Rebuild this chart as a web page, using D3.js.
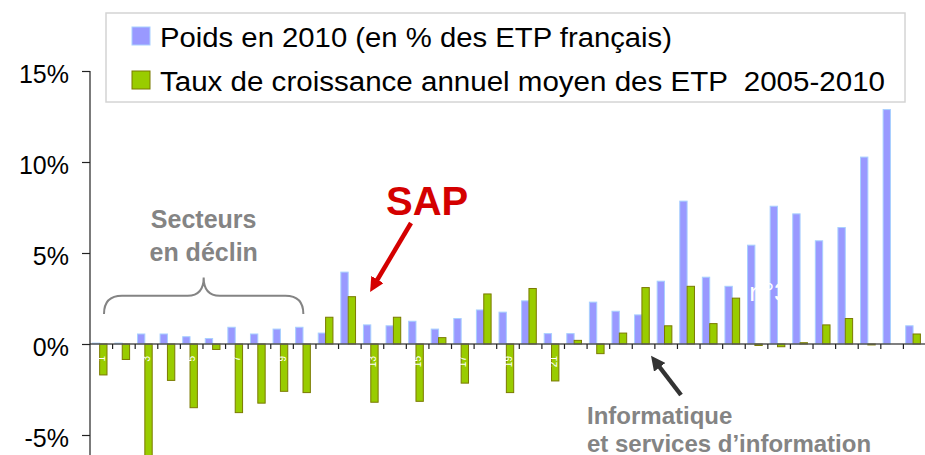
<!DOCTYPE html>
<html>
<head>
<meta charset="utf-8">
<script src="https://cdn.jsdelivr.net/npm/d3@7"></script>
<style>
  body { margin: 0; background: #fff; }
  svg { display: block; font-family: "Liberation Sans", Arial, sans-serif; }
</style>
</head>
<body>
<div id="chart"></div>
<script>
// secteurs numérotés 1..37
const categories = ["1","2","3","4","5","6","7","8","9","10","11","12","13","14","15","16","17","18","19",
  "20","21","22","23","24","25","26","27","28","29","30","31","32","33","34","35","36","37"];
// Poids en 2010 (en % des ETP français)
const poids = [0.05, 0.05, 0.55, 0.55, 0.4, 0.3, 0.92, 0.55, 0.82, 0.92,
  0.6, 3.95, 1.05, 1.0, 1.25, 0.82, 1.4, 1.87, 1.75, 2.37,
  0.57, 0.57, 2.3, 1.8, 1.6, 3.45, 7.85, 3.67, 3.17, 5.43,
  7.57, 7.15, 5.67, 6.4, 10.27, 12.88, 1.0];
// Taux de croissance annuel moyen des ETP 2005-2010
const taux = [-1.7, -0.85, -6.5, -2.0, -3.5, -0.3, -3.77, -3.25, -2.6, -2.67,
  1.47, 2.6, -3.2, 1.47, -3.15, 0.35, -2.15, 2.75, -2.67, 3.05,
  -2.03, 0.2, -0.53, 0.6, 3.1, 1.0, 3.17, 1.12, 2.52, -0.08,
  -0.15, 0.07, 1.05, 1.4, -0.05, 0, 0.55];
const seriesKeys = ["poids", "taux"];
const seriesNames = ["Poids en 2010 (en % des ETP français)", "Taux de croissance annuel moyen des ETP  2005-2010"];
const yTicks = [-5, 0, 5, 10, 15];
const tickLabelCats = ["1","3","5","7","9","11","13","15","17","19","21","23","25","27","29","31","33","35","37"];

const pars = {
  fullWidth: 925,
  fullHeight: 455,
  plotLeft: 90,
  plotRight: 926,
  yTop: 71,
  yBottom: 435,
  blueFill: "#9999ff",
  blueStroke: "#a8d0ff",
  greenFill: "#99cc00",
  greenStroke: "#7a7a00",
  grey: "#848484",
  red: "#d40000"
};

const svg = d3.select("#chart").append("svg")
  .attr("width", pars.fullWidth)
  .attr("height", pars.fullHeight);

const x = d3.scaleBand().domain(categories).range([pars.plotLeft, pars.plotRight]);
const x1 = d3.scaleBand().domain(seriesKeys).range([2.3, 17]);
const y = d3.scaleLinear().domain([-5, 15]).range([pars.yBottom, pars.yTop]);

const rows = categories.map((c, i) => ({cat: c, poids: poids[i], taux: taux[i]}));

// markers for the annotation arrows
function addArrowMarker(id, color) {
  svg.append("defs").append("marker")
    .attr("id", id)
    .attr("viewBox", "0 0 10 10")
    .attr("refX", 2)
    .attr("refY", 5)
    .attr("markerWidth", 3.2)
    .attr("markerHeight", 3.2)
    .attr("orient", "auto")
    .append("path")
    .attr("d", "M0,0 L10,5 L0,10 z")
    .attr("fill", color);
}
addArrowMarker("red-arrow", pars.red);
addArrowMarker("dark-arrow", "#333");

// legend
const legend = svg.append("g");
legend.append("rect")
  .attr("x", 106).attr("y", 13)
  .attr("width", 799).attr("height", 89)
  .attr("fill", "#fff")
  .attr("stroke", "#d4d4d4")
  .attr("stroke-width", 1.5);
seriesNames.forEach((name, i) => {
  const ly = 27 + i * 44;
  legend.append("rect")
    .attr("x", 132).attr("y", ly)
    .attr("width", 18).attr("height", 18)
    .attr("fill", i === 0 ? pars.blueFill : pars.greenFill)
    .attr("stroke", i === 0 ? pars.blueStroke : pars.greenStroke)
    .attr("stroke-width", 1);
  legend.append("text")
    .attr("x", 160).attr("y", ly + 19.5)
    .attr("font-size", 27)
    .attr("textLength", i === 0 ? 512 : 725)
    .attr("lengthAdjust", "spacingAndGlyphs")
    .style("white-space", "pre")
    .attr("fill", "#000")
    .text(name);
});

// bars
const groups = svg.append("g").selectAll("g")
  .data(rows)
  .enter().append("g")
  .attr("transform", d => `translate(${x(d.cat)},0)`);

groups.append("rect")
  .attr("x", x1("poids"))
  .attr("y", d => y(Math.max(0, d.poids)))
  .attr("width", x1.bandwidth())
  .attr("height", d => Math.abs(y(d.poids) - y(0)))
  .attr("fill", pars.blueFill)
  .attr("stroke", pars.blueStroke)
  .attr("stroke-width", 1);

groups.filter(d => d.taux !== 0).append("rect")
  .attr("x", x1("taux"))
  .attr("y", d => y(Math.max(0, d.taux)))
  .attr("width", x1.bandwidth())
  .attr("height", d => Math.abs(y(d.taux) - y(0)))
  .attr("fill", pars.greenFill)
  .attr("stroke", pars.greenStroke)
  .attr("stroke-width", 1);

// x axis: line at 0 with ticks on category boundaries
svg.append("line")
  .attr("x1", pars.plotLeft).attr("x2", pars.fullWidth)
  .attr("y1", y(0)).attr("y2", y(0))
  .attr("stroke", "#555").attr("stroke-width", 1.6);
svg.append("g").selectAll("line")
  .data(categories.slice(1))
  .enter().append("line")
  .attr("x1", d => x(d)).attr("x2", d => x(d))
  .attr("y1", y(0)).attr("y2", y(0) + 5)
  .attr("stroke", "#222").attr("stroke-width", 1.2);

// tick labels in white (only visible over the bars)
svg.append("g").selectAll("text")
  .data(tickLabelCats)
  .enter().append("text")
  .attr("transform", d => `translate(${x(d) + x.bandwidth() / 2},${y(0) + 12}) rotate(-90)`)
  .attr("text-anchor", "end")
  .attr("dy", "0.35em")
  .attr("font-size", 10)
  .attr("fill", "#fff")
  .text(d => d);

// y axis
const yAxis = svg.append("g")
  .attr("transform", `translate(${pars.plotLeft},0)`)
  .call(d3.axisLeft(y).tickValues(yTicks).tickFormat(d => d + "%").tickSize(8).tickPadding(13));
yAxis.select(".domain").remove();
yAxis.selectAll(".tick line").attr("stroke", "#222").attr("stroke-width", 1.2);
yAxis.selectAll(".tick text")
  .attr("font-family", "'Liberation Sans', Arial, sans-serif")
  .attr("font-size", 25)
  .attr("fill", "#000")
  .attr("dy", "0.44em");
yAxis.append("line")
  .attr("x1", 0).attr("x2", 0)
  .attr("y1", pars.yTop).attr("y2", pars.fullHeight)
  .attr("stroke", "#222").attr("stroke-width", 1.2);

// hidden white label over the large bars
svg.append("text")
  .attr("x", x("30") + 4).attr("y", y(2.35))
  .attr("font-size", 26)
  .attr("fill", "#fff")
  .text("n°3");

// "Secteurs en déclin" with brace
const braceL = x("1") + 14, braceR = x("10") + 10, braceMid = (braceL + braceR) / 2;
const braceY = y(2.65), braceTop = y(3.65), braceBot = y(1.65);
svg.append("path")
  .attr("d", `M${braceL},${braceBot} Q${braceL},${braceY} ${braceL + 18},${braceY}
    L${braceMid - 16},${braceY} Q${braceMid},${braceY} ${braceMid},${braceTop}
    Q${braceMid},${braceY} ${braceMid + 16},${braceY}
    L${braceR - 18},${braceY} Q${braceR},${braceY} ${braceR},${braceBot}`)
  .attr("fill", "none")
  .attr("stroke", pars.grey)
  .attr("stroke-width", 2);
svg.append("text")
  .attr("x", braceMid).attr("y", 228)
  .attr("text-anchor", "middle")
  .attr("font-size", 25).attr("font-weight", "bold")
  .attr("fill", pars.grey)
  .text("Secteurs");
svg.append("text")
  .attr("x", braceMid).attr("y", 260.5)
  .attr("text-anchor", "middle")
  .attr("font-size", 25).attr("font-weight", "bold")
  .attr("fill", pars.grey)
  .text("en déclin");

// SAP
svg.append("text")
  .attr("x", 386).attr("y", 215)
  .attr("font-size", 40).attr("font-weight", "bold")
  .attr("fill", pars.red)
  .text("SAP");
svg.append("line")
  .attr("x1", 411).attr("y1", 223)
  .attr("x2", 376).attr("y2", 282)
  .attr("stroke", pars.red).attr("stroke-width", 4.5)
  .attr("marker-end", "url(#red-arrow)");

// Informatique et services d'information
svg.append("line")
  .attr("x1", 681).attr("y1", 395)
  .attr("x2", 658).attr("y2", 365)
  .attr("stroke", "#333").attr("stroke-width", 4.5)
  .attr("marker-end", "url(#dark-arrow)");
svg.append("text")
  .attr("x", 587).attr("y", 424)
  .attr("font-size", 24).attr("font-weight", "bold")
  .attr("fill", pars.grey)
  .text("Informatique");
svg.append("text")
  .attr("x", 587).attr("y", 451.5)
  .attr("font-size", 24).attr("font-weight", "bold")
  .attr("fill", pars.grey)
  .text("et services d’information");
</script>
</body>
</html>
